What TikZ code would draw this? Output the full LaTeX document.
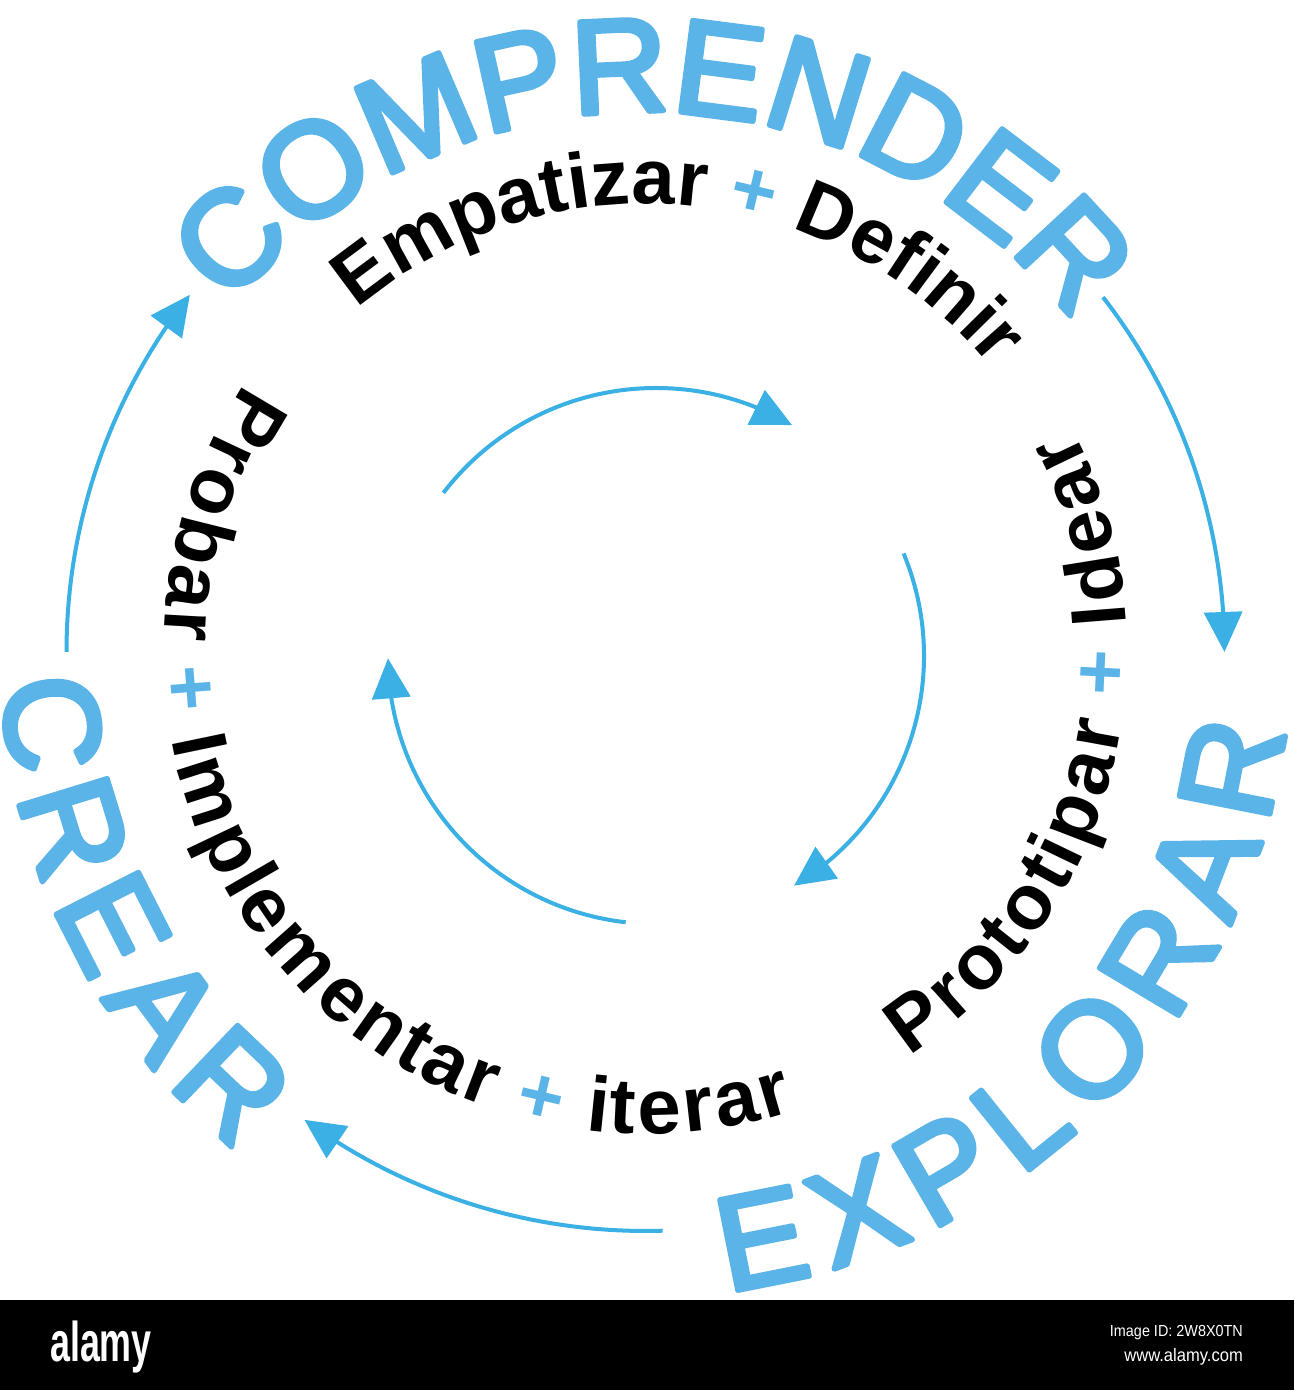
\documentclass[tikz,border=0pt]{standalone}
\usepackage{fontspec}
\setmainfont{Liberation Sans}
\newfontfamily\bluefam{Liberation Sans}[FakeBold=4]
\usetikzlibrary{decorations.text,arrows.meta,bending}
\definecolor{txtblue}{RGB}{90,180,232}
\definecolor{arrblue}{RGB}{58,176,228}
\tikzset{
  arcarrow/.style={draw=arrblue, line width=4pt, line join=miter, -{Triangle[length=40pt,width=38pt]}},
  wmark/.style={text=white, inner sep=0pt},
}
\newcommand{\bigblue}{\bluefam\fontsize{134}{140}\selectfont\color{txtblue}}
\newcommand{\blacktxt}{\fontsize{78}{80}\selectfont\bfseries\color{black}}
\begin{document}
\begin{tikzpicture}[x=1pt,y=1pt,line join=round]
\useasboundingbox (0,0) rectangle (1294,1390);
\fill[white] (0,0) rectangle (1294,1390);
\coordinate (O) at (645.5,738);
\coordinate (I) at (656,734);

% outer blue words
\path[decorate, line join=round, decoration={text along path, text align=center,
  text={|\bigblue|COMPRENDER}}]
  ([shift={(159:540)}]O) arc[start angle=159, end angle=19, radius=540];
\path[decorate, line join=round, decoration={text along path, text align=center, raise=-104pt,
  text={|\bigblue|CREAR}}]
  ([shift={(136.6:540)}]O) arc[start angle=136.6, end angle=276.6, radius=540];
\path[decorate, line join=round, decoration={text along path, text align=center, raise=-104pt,
  text={|\bigblue|EXPLORAR}}]
  ([shift={(-114.8:540)}]O) arc[start angle=-114.8, end angle=25.2, radius=540];

% inner black words
\path[decorate, decoration={text along path, text align=center,
  text={|\blacktxt|Empatizar |+\color{txtblue}|+|+\color{black}| Definir}}]
  ([shift={(164.7:448)}]O) arc[start angle=164.7, end angle=4.7, radius=448];
\path[decorate, decoration={text along path, text align=center, raise=-44pt,
  text={|\blacktxt|Probar |+\color{txtblue}|+|+\color{black}| Implementar |+\color{txtblue}|+|+\color{black}| iterar}}]
  ([shift={(127:438)}]O) arc[start angle=127, end angle=307, radius=438];
\path[decorate, decoration={text along path, text align=center, raise=-44pt,
  text={|\blacktxt|Prototipar |+\color{txtblue}|+|+\color{black}| Idear}}]
  ([shift={(-94.8:438)}]O) arc[start angle=-94.8, end angle=65.2, radius=438];

% outer arrows
\coordinate (oa1) at ([shift={(180:579)}]O);
\coordinate (oa2) at ([shift={(37.8:579)}]O);
\coordinate (oa3) at ([shift={(-88.3:579)}]O);
\draw[arcarrow] (oa1) arc[start angle=180, end angle=141.9, radius=579];
\draw[arcarrow] (oa2) arc[start angle=37.8, end angle=0, radius=579];
\draw[arcarrow] (oa3) arc[start angle=-88.3, end angle=-126.1, radius=579];

% inner arrows
\coordinate (ia1) at ([shift={(142.5:268)}]I);
\coordinate (ia2) at ([shift={(22.5:268)}]I);
\coordinate (ia3) at ([shift={(263.5:268)}]I);
\draw[arcarrow] (ia1) arc[start angle=142.5, end angle=59.5, radius=268];
\draw[arcarrow] (ia2) arc[start angle=22.5, end angle=-59, radius=268];
\draw[arcarrow] (ia3) arc[start angle=263.5, end angle=180.5, radius=268];

% watermark bar
\fill[black] (0,0) rectangle (1294,90);
\node[wmark, anchor=base west, font=\fontsize{56}{56}\selectfont\bfseries, xscale=0.64] (logo) at (50,28) {alamy};
\node[wmark, anchor=east, font=\fontsize{16}{16}\selectfont, xscale=0.9] (imgid) at (1243,57) {Image ID: 2W8X0TN};
\node[wmark, anchor=east, font=\fontsize{18}{18}\selectfont, xscale=0.92] (url) at (1243,33) {www.alamy.com};
\end{tikzpicture}
\end{document}
